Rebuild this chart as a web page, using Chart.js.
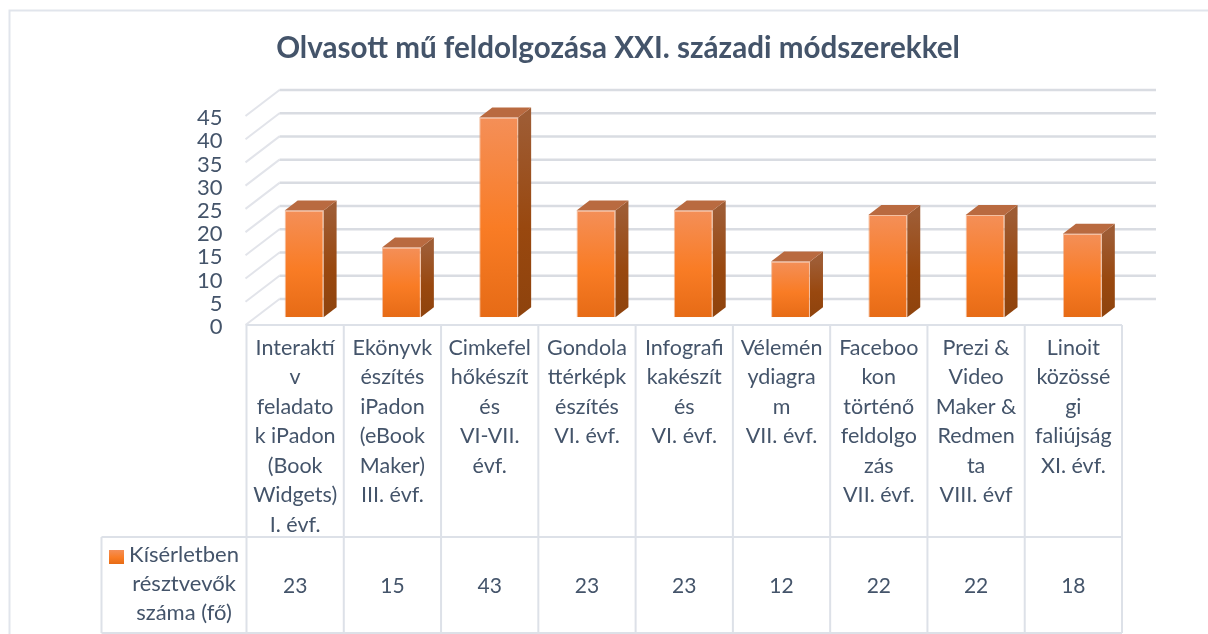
<!DOCTYPE html>
<html lang="hu">
<head>
<meta charset="utf-8">
<title>Olvasott mű feldolgozása XXI. századi módszerekkel</title>
<script src="https://cdn.jsdelivr.net/npm/chart.js@4"></script>
<style>
    html, body { margin: 0; padding: 0; background: #ffffff; }
    canvas { display: block; }
</style>
</head>
<body>
<canvas id="chart" width="1208" height="634"></canvas>
<script>
const chartTitle = 'Olvasott mű feldolgozása XXI. századi módszerekkel';
const categories = [
    ['Interaktí', 'v', 'feladato', 'k iPadon', '(Book', 'Widgets)', 'I. évf.'],
    ['Ekönyvk', 'észítés', 'iPadon', '(eBook', 'Maker)', 'III. évf.'],
    ['Cimkefel', 'hőkészít', 'és', 'VI-VII.', 'évf.'],
    ['Gondola', 'ttérképk', 'észítés', 'VI. évf.'],
    ['Infografi', 'kakészít', 'és', 'VI. évf.'],
    ['Vélemén', 'ydiagra', 'm', 'VII. évf.'],
    ['Faceboo', 'kon', 'történő', 'feldolgo', 'zás', 'VII. évf.'],
    ['Prezi &', 'Video', 'Maker &', 'Redmen', 'ta', 'VIII. évf'],
    ['Linoit', 'közössé', 'gi', 'faliújság', 'XI. évf.']
];
const participants = [23, 15, 43, 23, 23, 12, 22, 22, 18];
const seriesLines = ['Kísérletben', 'résztvevők', 'száma (fő)'];
const seriesName = seriesLines.join(' ');

const textColor = '#44546a';
const fontFamily = 'Lato, "Open Sans", sans-serif';
const lineColor = '#dde1e8';

// fake 3D depth, Excel style
const wallDx = 34, wallDy = 26;
const barDx = 9, barDy = 7.7;
const sideDx = 13, sideDy = 10;

const vertGradient = (ctx, top, bottom, stops) => {
    const g = ctx.createLinearGradient(0, top, 0, bottom);
    stops.forEach(s => g.addColorStop(s[0], s[1]));
    return g;
};

const frontStops = [[0, '#f48f58'], [0.55, '#f97c25'], [1, '#e66b16']];
const sideStops = [[0, '#9e5c34'], [0.55, '#99480f'], [1, '#8e430d']];

const threeDPlugin = {
    id: 'threeD',
    beforeDatasetsDraw(chart) {
        const ctx = chart.ctx;
        const { x, y } = chart.scales;

        ctx.save();
        // outer frame
        ctx.strokeStyle = '#e1e5ec';
        ctx.lineWidth = 2;
        ctx.beginPath();
        ctx.moveTo(9.5, 634);
        ctx.lineTo(9.5, 10.5);
        ctx.lineTo(1208, 10.5);
        ctx.stroke();

        // walls
        y.ticks.forEach(t => {
            const py = y.getPixelForValue(t.value);
            ctx.strokeStyle = '#e2e4ea';
            ctx.lineWidth = 2;
            ctx.beginPath();
            ctx.moveTo(x.left - 1, py);
            ctx.lineTo(x.left + wallDx - 1, py - wallDy);
            ctx.stroke();
            ctx.strokeStyle = '#d9dce2';
            ctx.lineWidth = 2.5;
            ctx.beginPath();
            ctx.moveTo(x.left + wallDx - 1, py - wallDy);
            ctx.lineTo(x.right + wallDx, py - wallDy);
            ctx.stroke();
        });
        ctx.restore();
    },
    beforeDatasetDraw(chart, args) {
        const ctx = chart.ctx;
        ctx.save();
        ctx.translate(barDx, -barDy);
        args.meta.data.forEach(bar => {
            const left = bar.x - bar.width / 2;
            const right = bar.x + bar.width / 2;
            // side
            ctx.fillStyle = vertGradient(ctx, bar.y, bar.base, sideStops);
            ctx.beginPath();
            ctx.moveTo(right, bar.y);
            ctx.lineTo(right + sideDx, bar.y - sideDy);
            ctx.lineTo(right + sideDx, bar.base - sideDy);
            ctx.lineTo(right, bar.base);
            ctx.closePath();
            ctx.fill();
            // top
            ctx.fillStyle = '#b96a40';
            ctx.beginPath();
            ctx.moveTo(left, bar.y);
            ctx.lineTo(left + sideDx, bar.y - sideDy);
            ctx.lineTo(right + sideDx, bar.y - sideDy);
            ctx.lineTo(right, bar.y);
            ctx.closePath();
            ctx.fill();
        });
    },
    afterDatasetDraw(chart) {
        chart.ctx.restore();
    },
    afterDatasetsDraw(chart) {
        const ctx = chart.ctx;
        const { x } = chart.scales;
        const tableTop = chart.chartArea.bottom;
        const rowTop = 537;
        const rowBottom = 633;
        const legendLeft = 101.5;
        const colWidth = x.width / categories.length;

        ctx.save();
        ctx.strokeStyle = lineColor;
        ctx.lineWidth = 2;
        ctx.beginPath();
        ctx.moveTo(x.left, tableTop);
        ctx.lineTo(x.right, tableTop);
        ctx.moveTo(legendLeft, rowTop);
        ctx.lineTo(x.right, rowTop);
        ctx.moveTo(legendLeft, rowBottom);
        ctx.lineTo(x.right, rowBottom);
        ctx.moveTo(legendLeft, rowTop);
        ctx.lineTo(legendLeft, rowBottom);
        categories.forEach((c, i) => {
            ctx.moveTo(x.left + i * colWidth, tableTop);
            ctx.lineTo(x.left + i * colWidth, rowBottom);
        });
        ctx.moveTo(x.right, tableTop);
        ctx.lineTo(x.right, rowBottom);
        ctx.stroke();

        // data row
        ctx.font = '21px ' + fontFamily;
        ctx.fillStyle = textColor;
        ctx.textAlign = 'center';
        ctx.textBaseline = 'middle';
        participants.forEach((v, i) => {
            ctx.fillText(String(v), x.getPixelForValue(i), 586);
        });

        // legend cell
        ctx.font = '22px ' + fontFamily;
        seriesLines.forEach((line, i) => {
            ctx.fillText(line, 184, 555 + i * 29);
        });
        ctx.fillStyle = vertGradient(ctx, 550, 564, frontStops);
        ctx.fillRect(109, 550, 15, 14);
        ctx.restore();
    }
};

new Chart(document.getElementById('chart'), {
    type: 'bar',
    data: {
        labels: categories,
        datasets: [{
            label: seriesName,
            data: participants,
            backgroundColor: c => {
                const y = c.chart.scales.y;
                if (!y || !c.parsed) return frontStops[1][1];
                const top = y.getPixelForValue(c.parsed.y);
                const base = y.getPixelForValue(0);
                if (!isFinite(top) || !isFinite(base)) return frontStops[1][1];
                return vertGradient(c.chart.ctx, top, base, frontStops);
            },
            borderColor: 'rgba(236, 150, 100, 0.6)',
            borderWidth: 1,
            categoryPercentage: 0.4,
            barPercentage: 1
        }]
    },
    options: {
        responsive: false,
        animation: false,
        layout: { padding: { left: 114, right: 86, top: 0, bottom: 97 } },
        plugins: {
            legend: { display: false },
            tooltip: { enabled: false },
            title: {
                display: true,
                text: chartTitle,
                color: textColor,
                font: { family: fontFamily, size: 29.6, weight: 'bold', lineHeight: 1.1 },
                padding: { top: 32, bottom: 51.4 }
            }
        },
        scales: {
            x: {
                afterFit: s => { s.height = 212; },
                grid: { display: false },
                border: { display: false },
                ticks: {
                    color: textColor,
                    font: { family: fontFamily, size: 21.5, lineHeight: 1.372 },
                    padding: 0,
                    autoSkip: false,
                    maxRotation: 0,
                    minRotation: 0
                }
            },
            y: {
                min: 0,
                max: 45,
                afterFit: s => { s.width = 132.5; },
                grid: { display: false, drawTicks: false },
                border: { display: false },
                ticks: {
                    stepSize: 5,
                    autoSkip: false,
                    color: textColor,
                    font: { family: fontFamily, size: 22 },
                    padding: 24,
                    labelOffset: 2
                }
            }
        }
    },
    plugins: [threeDPlugin]
});
</script>
</body>
</html>
